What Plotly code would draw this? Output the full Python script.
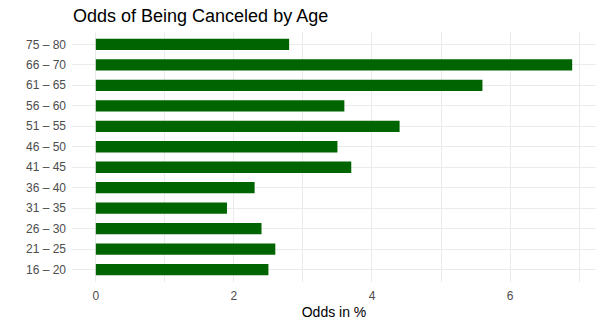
import plotly.graph_objects as go

age_groups = ["16 – 20", "21 – 25", "26 – 30", "31 – 35", "36 – 40", "41 – 45",
              "46 – 50", "51 – 55", "56 – 60", "61 – 65", "66 – 70", "75 – 80"]
odds = [2.5, 2.6, 2.4, 1.9, 2.3, 3.7, 3.5, 4.4, 3.6, 5.6, 6.9, 2.8]

x_tickvals = [0, 1, 2, 3, 4, 5, 6, 7]
x_ticktext = ["0", "", "2", "", "4", "", "6", ""]

fig = go.Figure(go.Bar(
    x=odds, y=age_groups, orientation="h",
    marker=dict(color="#006400", line=dict(width=0)),
    width=0.55,
))

fig.update_layout(
    width=604, height=328,
    margin=dict(l=72, r=8, t=32, b=46),
    paper_bgcolor="white", plot_bgcolor="white",
    font=dict(family="Liberation Sans, Arial, sans-serif", color="#4d4d4d"),
    title=dict(text="Odds of Being Canceled by Age", x=73/604, xanchor="left",
               y=1 - 16/328, yanchor="middle",
               font=dict(size=18, color="black")),
    xaxis=dict(range=[-0.345, 7.245], tickvals=x_tickvals, ticktext=x_ticktext,
               showgrid=True, gridcolor="#ebebeb", gridwidth=1, zeroline=False,
               showline=False, ticks="", tickfont=dict(size=12, color="#4d4d4d"),
               ticklabelstandoff=5,
               title=dict(text="Odds in %", font=dict(size=14, color="black"), standoff=5)),
    yaxis=dict(categoryorder="array", categoryarray=age_groups, range=[-0.6, 11.6],
               showgrid=True, gridcolor="#ebebeb", gridwidth=1, zeroline=False,
               showline=False, ticks="", tickfont=dict(size=12, color="#4d4d4d"),
               ticklabelstandoff=5),
    showlegend=False,
)

fig.write_html("out.html")
